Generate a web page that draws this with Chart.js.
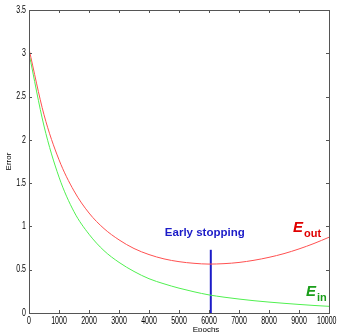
<!DOCTYPE html>
<html>
<head>
<meta charset="utf-8">
<script src="https://cdn.jsdelivr.net/npm/chart.js@4/dist/chart.umd.min.js"></script>
<style>
  body { margin: 0; background: #fff; }
  #wrap { position: relative; width: 337px; height: 332px; }
</style>
</head>
<body>
<div id="wrap"><canvas id="errChart"></canvas></div>
<script>
// values
const epochs = [0, 500, 1000, 1500, 2000, 2500, 3000, 3500, 4000, 4500, 5000,
                5500, 6000, 6500, 7000, 7500, 8000, 8500, 9000, 9500, 10000];
const eOut = [3.05, 2.29, 1.77, 1.41, 1.155, 0.975, 0.845, 0.745, 0.675, 0.625, 0.593,
              0.574, 0.565, 0.570, 0.584, 0.609, 0.643, 0.686, 0.740, 0.803, 0.875];
const eIn = [3.0, 2.16, 1.57, 1.17, 0.91, 0.72, 0.585, 0.48, 0.396, 0.337, 0.287,
             0.245, 0.209, 0.183, 0.161, 0.142, 0.126, 0.112, 0.099, 0.087, 0.077];
const stopEpoch = 6060;
const stopTop = 0.73;

const FONT = "'Liberation Sans', Arial, sans-serif";

// narrow tick label, like the old matlab bitmap font
function narrowText(ctx, txt, x, y, align) {
    ctx.save();
    ctx.translate(x, y);
    ctx.scale(0.7, 1);
    ctx.textAlign = align;
    ctx.fillText(txt, 0, 0);
    ctx.restore();
}

// box frame, inward ticks, tick labels, titles and the text labels
const decorPlugin = {
    id: "decor",
    afterDraw(chart) {
        const ctx = chart.ctx;
        const a = chart.chartArea;
        const xs = chart.scales.x, ys = chart.scales.y;
        ctx.save();
        ctx.strokeStyle = "#555";
        ctx.lineWidth = 1;
        ctx.strokeRect(Math.round(a.left) + 0.5, Math.round(a.top) + 0.5,
                       Math.round(a.right - a.left), Math.round(a.bottom - a.top));
        ctx.beginPath();
        xs.ticks.forEach(t => {
            const px = Math.round(xs.getPixelForValue(t.value)) + 0.5;
            ctx.moveTo(px, a.bottom); ctx.lineTo(px, a.bottom - 3);
            ctx.moveTo(px, a.top); ctx.lineTo(px, a.top + 3);
        });
        ys.ticks.forEach(t => {
            const py = Math.round(ys.getPixelForValue(t.value)) + 0.5;
            ctx.moveTo(a.left, py); ctx.lineTo(a.left + 3, py);
            ctx.moveTo(a.right, py); ctx.lineTo(a.right - 3, py);
        });
        ctx.stroke();

        // tick labels
        ctx.fillStyle = "#000";
        ctx.font = "10px " + FONT;
        ctx.textBaseline = "alphabetic";
        xs.ticks.forEach(t => {
            const s = String(t.value);
            const w = ctx.measureText(s).width * 0.7;
            let px = xs.getPixelForValue(t.value);
            px = Math.min(px, chart.width - w / 2 - 0.5);
            narrowText(ctx, s, px, a.bottom + 10.5, "center");
        });
        ctx.textBaseline = "middle";
        ys.ticks.forEach(t => {
            narrowText(ctx, String(t.value), a.left - 3, ys.getPixelForValue(t.value), "right");
        });

        // axis titles
        ctx.font = "8px " + FONT;
        ctx.textAlign = "center";
        ctx.textBaseline = "top";
        ctx.fillText("Epochs", xs.getPixelForValue(5900), 326);
        ctx.save();
        ctx.translate(13, ys.getPixelForValue(1.75));
        ctx.rotate(-Math.PI / 2);
        ctx.textBaseline = "bottom";
        ctx.fillText("Error", 0, 0);
        ctx.restore();

        // annotation
        ctx.textBaseline = "alphabetic";
        ctx.fillStyle = "#1c1cc8";
        ctx.font = "bold 11.5px " + FONT;
        ctx.fillText("Early stopping", xs.getPixelForValue(5860), ys.getPixelForValue(0.895));

        ctx.textAlign = "left";
        let x0 = xs.getPixelForValue(8800), y0 = ys.getPixelForValue(0.94);
        ctx.fillStyle = "#e00000";
        ctx.font = "italic bold 15px " + FONT;
        ctx.fillText("E", x0, y0);
        let w = ctx.measureText("E").width;
        ctx.font = "bold 11px " + FONT;
        ctx.fillText("out", x0 + w + 1, y0 + 5);

        x0 = xs.getPixelForValue(9230); y0 = ys.getPixelForValue(0.195);
        ctx.fillStyle = "#1a9e1a";
        ctx.font = "italic bold 15px " + FONT;
        ctx.fillText("E", x0, y0);
        w = ctx.measureText("E").width;
        ctx.font = "bold 11px " + FONT;
        ctx.fillText("in", x0 + w + 1, y0 + 5);
        ctx.restore();
    }
};

new Chart(document.getElementById("errChart"), {
    type: "line",
    data: {
        datasets: [
            {
                label: "Eout",
                data: epochs.map((e, i) => ({ x: e, y: eOut[i] })),
                borderColor: "#ff5050",
                borderWidth: 1,
                pointRadius: 0,
                cubicInterpolationMode: "monotone"
            },
            {
                label: "Ein",
                data: epochs.map((e, i) => ({ x: e, y: eIn[i] })),
                borderColor: "#50f050",
                borderWidth: 1,
                pointRadius: 0,
                cubicInterpolationMode: "monotone"
            },
            {
                label: "stop",
                data: [{ x: stopEpoch, y: 0 }, { x: stopEpoch, y: stopTop }],
                borderColor: "#1c1cc8",
                borderWidth: 2,
                pointRadius: 0
            }
        ]
    },
    options: {
        responsive: true,
        maintainAspectRatio: false,
        animation: false,
        layout: { autoPadding: false, padding: { left: 0, right: 8, top: 10, bottom: 0 } },
        plugins: { legend: { display: false }, tooltip: { enabled: false } },
        scales: {
            x: {
                type: "linear",
                min: 0,
                max: 10000,
                grid: { display: false, drawTicks: false },
                border: { display: false },
                ticks: { stepSize: 1000, autoSkip: false, display: false },
                afterFit: s => { s.height = 19; s.paddingLeft = 0; s.paddingRight = 0; }
            },
            y: {
                min: 0,
                max: 3.5,
                grid: { display: false, drawTicks: false },
                border: { display: false },
                ticks: { stepSize: 0.5, display: false },
                afterFit: s => { s.width = 29; s.paddingTop = 0; s.paddingBottom = 0; }
            }
        }
    },
    plugins: [decorPlugin]
});
</script>
</body>
</html>
